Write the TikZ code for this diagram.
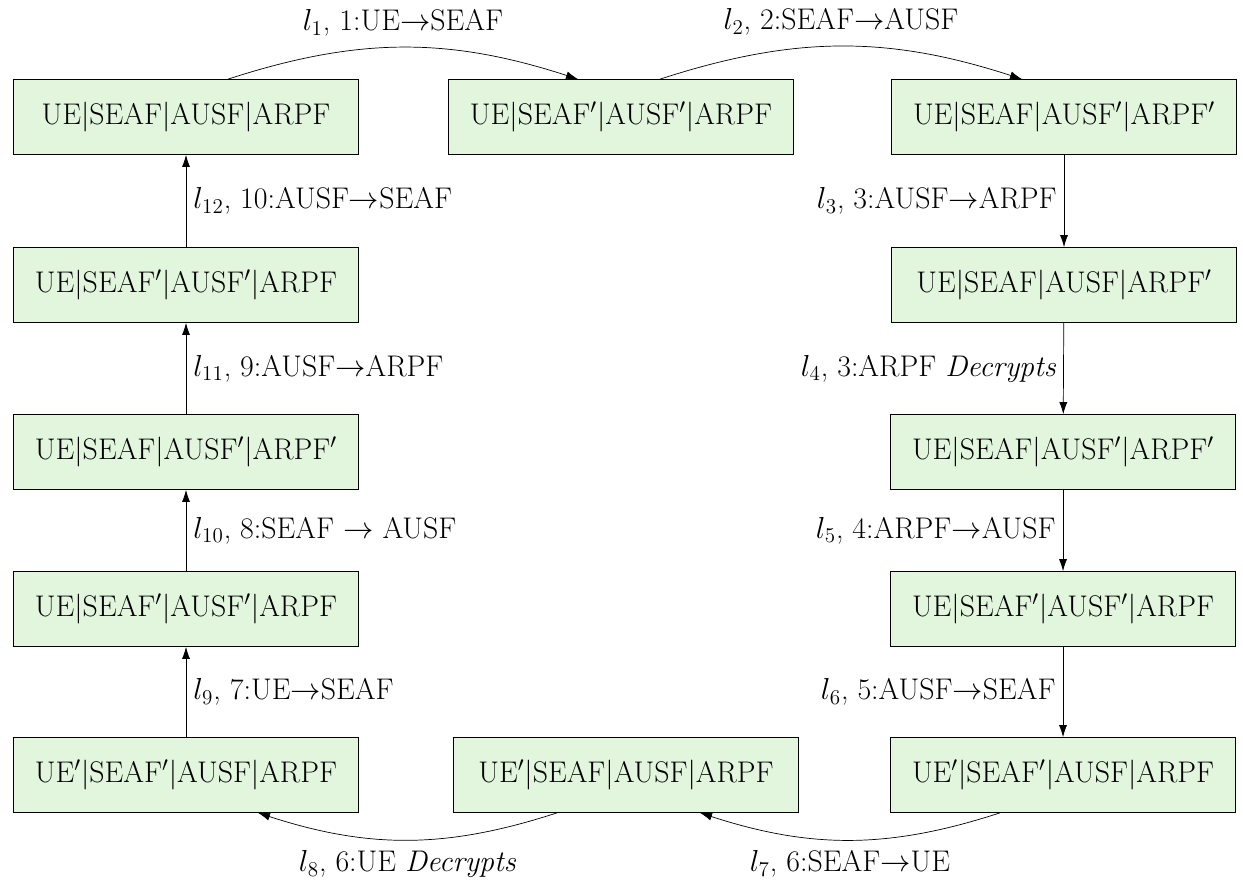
\documentclass[tikz,border=0pt]{standalone}
\usepackage{tikz}
\usetikzlibrary{arrows.meta}
\definecolor{stategreen}{RGB}{226,246,222}

\begin{document}
\begin{tikzpicture}[x=0.02cm,y=-0.02cm,>={Latex[length=2.4mm,width=1.6mm]},
	state/.style={draw,fill=stategreen,inner xsep=10pt,minimum width=6.9cm,minimum height=1.5cm,font=\fontsize{17}{20}\selectfont},
	lbl/.style={font=\fontsize{17}{20}\selectfont,inner sep=4pt}]
	\useasboundingbox (0,0) rectangle (1243,879);
	\node[state] (1) at (186,117) {UE|SEAF|AUSF|ARPF};
	\node[state] (2) at (621,117) {UE|SEAF$'$|AUSF$'$|ARPF};
	\node[state] (3) at (1064,117) {UE|SEAF|AUSF$'$|ARPF$'$};
	\node[state] (4) at (1064,285) {UE|SEAF|AUSF|ARPF$'$};
	\node[state] (5) at (1063,452) {UE|SEAF|AUSF$'$|ARPF$'$};
	\node[state] (6) at (1063,609) {UE|SEAF$'$|AUSF$'$|ARPF};
	\node[state] (7) at (1063,775) {UE$'$|SEAF$'$|AUSF|ARPF};
	\node[state] (8) at (626,775) {UE$'$|SEAF|AUSF|ARPF};
	\node[state] (9) at (186,775) {UE$'$|SEAF$'$|AUSF|ARPF};
	\node[state] (10) at (186,609) {UE|SEAF$'$|AUSF$'$|ARPF};
	\node[state] (11) at (186,452) {UE|SEAF|AUSF$'$|ARPF$'$};
	\node[state] (12) at (186,285) {UE|SEAF$'$|AUSF$'$|ARPF};
	% top arcs
	\draw[->] ([xshift=0.84cm]1.north) to[bend left=18] node[lbl,above=2pt] {$l_1$, 1:UE$\rightarrow$SEAF} ([xshift=-0.86cm]2.north);
	\draw[->] ([xshift=0.78cm]2.north) to[bend left=18] node[lbl,above=2pt] {$l_2$, 2:SEAF$\rightarrow$AUSF} ([xshift=-0.84cm]3.north);
	% right column
	\draw[->] (3) -- node[lbl,left] {$l_3$, 3:AUSF$\rightarrow$ARPF} (4);
	\draw[->] (4) -- node[lbl,left] {$l_4$, 3:ARPF \textit{Decrypts}} (5);
	\draw[->] (5) -- node[lbl,left] {$l_5$, 4:ARPF$\rightarrow$AUSF} (6);
	\draw[->] (6) -- node[lbl,left] {$l_6$, 5:AUSF$\rightarrow$SEAF} (7);
	% bottom arcs
	\draw[->] ([xshift=-1.26cm]7.south) to[bend left=18] node[lbl,below=2pt] {$l_7$, 6:SEAF$\rightarrow$UE} ([xshift=1.48cm]8.south);
	\draw[->] ([xshift=-1.38cm]8.south) to[bend left=18] node[lbl,below=2pt] {$l_8$, 6:UE \textit{Decrypts}} ([xshift=1.44cm]9.south);
	% left column
	\draw[->] (9) -- node[lbl,right] {$l_9$, 7:UE$\rightarrow$SEAF} (10);
	\draw[->] (10) -- node[lbl,right] {$l_{10}$, 8:SEAF $\rightarrow$ AUSF} (11);
	\draw[->] (11) -- node[lbl,right] {$l_{11}$, 9:AUSF$\rightarrow$ARPF} (12);
	\draw[->] (12) -- node[lbl,right] {$l_{12}$, 10:AUSF$\rightarrow$SEAF} (1);
\end{tikzpicture}
\end{document}
